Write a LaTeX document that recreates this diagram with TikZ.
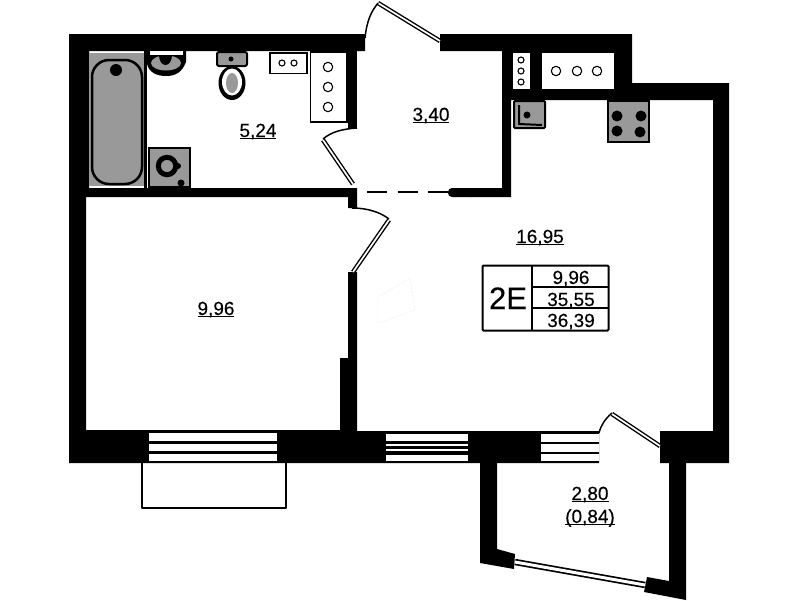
\documentclass[tikz,border=0pt]{standalone}
\usepackage{fontspec}
\setmainfont{Liberation Sans}[FakeBold=0.25]
\tikzset{
  wall/.style={fill=black},
  grayfix/.style={fill=black!40,draw=black,line width=2pt},
  leaf/.style={draw=black,line width=1.4pt,double=white,double distance=1.7pt},
  arcline/.style={draw=black,line width=1.5pt},
  cab/.style={fill=white,draw=black,line width=1.3pt},
  hob/.style={draw=black,line width=1.1pt,fill=white},
  pane/.style={fill=white},
  area/.style={font=\fontsize{19}{21}\selectfont,inner sep=0pt,anchor=base}
}
\newcommand{\lbl}[1]{\setbox0=\hbox{#1}\leavevmode\rlap{\raisebox{-2.4pt}{\rule{\wd0}{1.2pt}}}\box0}
\begin{document}
\begin{tikzpicture}[x=1pt,y=-1pt]
      \useasboundingbox (0,0) rectangle (799,600);
      % outer walls
      \fill[wall] (69,34) -- (365,34) -- (365,51) -- (89,51) -- (89,188) -- (357,188) -- (357,208) -- (348,208) -- (348,197)
          -- (86,197) -- (86,430) -- (340,430) -- (340,358) -- (348,358) -- (348,272) -- (357,272) -- (357,431) -- (599,431)
          -- (599,463) -- (69,463) -- cycle;
      \fill[wall] (348,51) rectangle (357,128);
      \fill[wall] (440,34) -- (632,34) -- (632,83) -- (729,83) -- (729,463) -- (660,463) -- (660,431) -- (713,431) -- (713,100)
          -- (511,100) -- (511,197) -- (470,197) -- (470,188) -- (502,188) -- (502,51) -- (440,51) -- cycle;
      \fill[wall,rounded corners=4pt] (448,188) rectangle (475,197);
      % loggia
      \fill[wall] (480,463) -- (497,463) -- (497,549) -- (515,554) -- (514,569) -- (480,563) -- cycle;
      \fill[wall] (669,463) -- (686,463) -- (686,600) -- (644,592) -- (647,577) -- (669,581) -- cycle;
      \draw[leaf,line width=1.7pt,double distance=3pt] (515,562) -- (645,585);
      % balcony
      \draw[line width=2pt,line join=round] (141.5,463) -- (141.5,508) -- (286,508) -- (286,463);
      % windows
      \foreach \ya/\yb in {433/441,444/451,454/461}
        \fill[pane] (149,\ya) rectangle (277,\yb);
      \foreach \ya/\yb in {433.5/441,444/446,449/451,455/461}
        \fill[pane] (386,\ya) rectangle (468,\yb);
      \foreach \ya/\yb in {434/442,444/452,454/461}
        \fill[pane] (541,\ya) rectangle (599,\yb);
      % doors
      \draw[leaf] (378,3) -- (440,41);
      \draw[arcline] (365,38) .. controls (367,20) and (371,12) .. (378,3);
      \draw[leaf] (323,140) -- (353,184);
      \draw[arcline] (357,128) .. controls (342,129) and (331,132) .. (323,139);
      \draw[leaf] (389,220) -- (353,272);
      \draw[arcline] (352,208) .. controls (367,208) and (380,212) .. (389,219);
      \draw[leaf] (612,414) -- (660,446);
      \draw[arcline] (599,433) .. controls (601,425) and (605,419) .. (612,413);
      \draw[line width=1.2pt,dash pattern=on 20pt off 10.7pt] (367,192) -- (449,192);
      % bathroom fittings
      \fill[black!40] (89,53) rectangle (144,186);
      \fill[wall] (144,51) rectangle (147,188);
      \draw[line width=2.5pt,rounded corners=17pt] (92,60) rectangle (142,184);
      \fill[wall] (116,70) circle (6);
      \fill[wall] (147,51) -- (186,51) -- (186,62) .. controls (182,72) and (176,76) .. (166,76)
          .. controls (156,76) and (149,72) .. (147,64) -- cycle;
      \fill[white] (150,51) rectangle (183,54.5);
      \fill[black!40] (166,63) ellipse (15 and 7.5);
      \fill[wall] (159,55) -- (172,55) .. controls (172,61) and (169,65) .. (165.5,65) .. controls (162,65) and (159,61) .. (159,55) -- cycle;
      \draw[grayfix] (149,148) -- (190,148) -- (190,187) -- (149,187) -- cycle;
      \draw[line width=5pt,fill=black!40] (167,166) circle (8.7);
      \fill[wall] (178,166) circle (3);
      \fill[wall] (181,183) circle (3.5);
      \draw[grayfix,rounded corners=2pt] (217,52) rectangle (247,66);
      \fill[wall] (231,59) circle (2.5);
      \fill[wall] (232,83) ellipse (13.5 and 17);
      \fill[white] (232,82) ellipse (10 and 13.5);
      \fill[black!40] (232,83) ellipse (6 and 10);
      % cabinets
      \draw[cab] (270,53) rectangle (307,73.5);
      \draw[cab] (310.5,52) rectangle (347,122);
      \fill[white] (513,53) rectangle (530,89);
      \fill[white] (542,53) rectangle (614,89);
      \foreach \cx/\cy in {282/63,294/63,521/60,521/71,521/82}
        \draw[hob] (\cx,\cy) circle (3);
      \foreach \cx/\cy in {328/67,328/87,328/107,556/71,577/71,597/71}
        \draw[hob] (\cx,\cy) circle (4.7);
      % sink and stove
      \draw[grayfix,rounded corners=1pt] (514,101) rectangle (545,128);
      \draw[line width=2pt] (519,105) -- (519,124) -- (542,125);
      \fill[wall] (527,115) circle (3.5);
      \draw[grayfix] (608,101) rectangle (649,142);
      \foreach \cx/\cy in {617/116,641/116,617/131,640/132}
        \fill[wall] (\cx,\cy) circle (5.5);
      % ghost mark
      \draw[black!14,densely dotted] (378,297) -- (410,278) -- (415,310) -- (378,323) -- cycle;
      % plate
      \draw[line width=2pt,rounded corners=1pt] (482.5,265.5) rectangle (608.5,330.5);
      \draw[line width=2pt] (532,265.5) -- (532,330.5);
      \draw[line width=2pt] (532,287) -- (608.5,287);
      \draw[line width=2pt] (532,308) -- (608.5,308);
      \node[area,font=\fontsize{31}{33}\selectfont] (code) at (508,309) {2E};
      \node[area] (living) at (571,284) {9,96};
      \node[area] (total) at (571,306) {35,55};
      \node[area] (gross) at (571,327) {36,39};
      % room areas
      \node[area] (bath) at (258,137) {\lbl{5,24}};
      \node[area] (hall) at (431,121) {\lbl{3,40}};
      \node[area] (kitchen) at (540,243) {\lbl{16,95}};
      \node[area] (bedroom) at (216,315) {\lbl{9,96}};
      \node[area] (loggia) at (590,500) {\lbl{2,80}};
      \node[area] (loggiab) at (590,523) {\lbl{(0,84)}};
      \end{tikzpicture}
\end{document}
